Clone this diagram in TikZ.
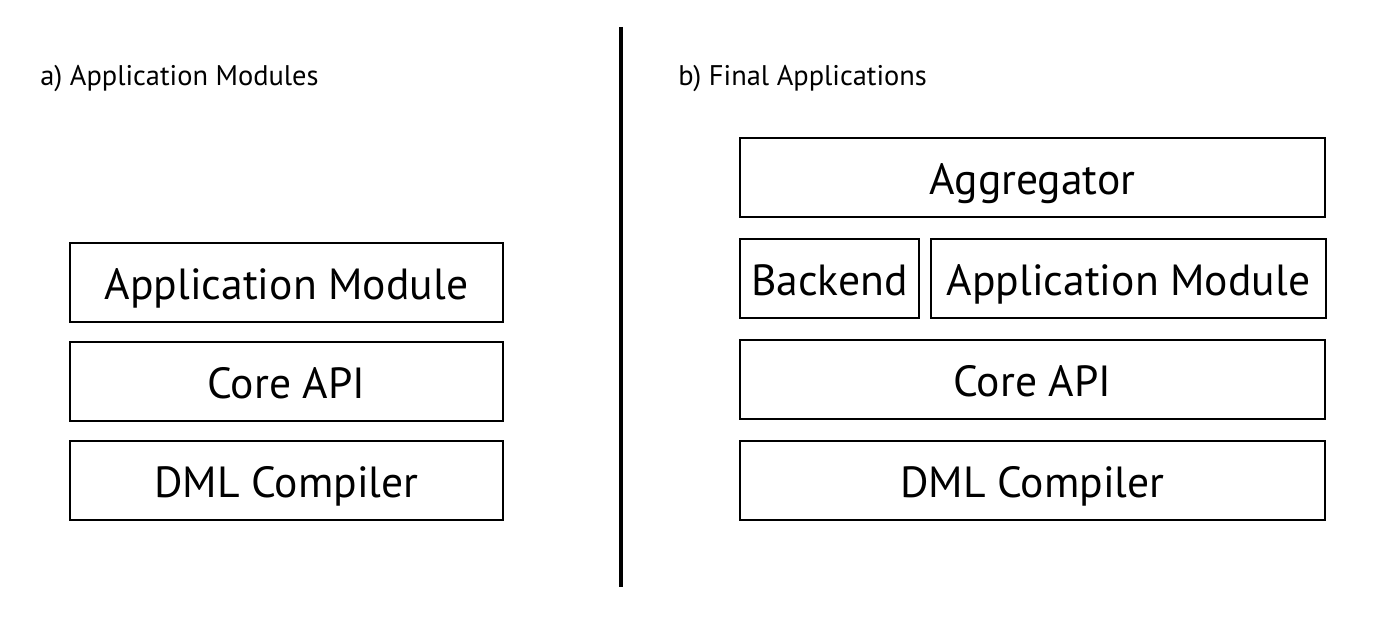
\documentclass[tikz,border=0pt]{standalone}
\usepackage{fontspec}
\setmainfont{PT Sans}
\tikzset{
  layer/.style = {draw, line width=1.5pt, inner sep=0pt, minimum height=1.975cm,
                  text height=23.5pt, text depth=0pt,
                  font=\fontsize{31}{37}\selectfont},
  caption/.style = {anchor=base west, inner sep=0pt, font=\fontsize{20.2}{24}\selectfont}
}
\begin{document}
\begin{tikzpicture}[x=0.025cm, y=-0.025cm]
        \useasboundingbox (0,0) rectangle (1396,617);

        % a) left stack
        \node[caption] (capa) at (40,86) {a) Application Modules};
        \node[layer, minimum width=10.825cm] (appa)  at (286.5,282.5) {Application Module};
        \node[layer, minimum width=10.825cm] (corea) at (286.5,381.5) {Core API};
        \node[layer, minimum width=10.825cm] (dmla)  at (286.5,480.5) {DML Compiler};

        % separator
        \draw[line width=2.2pt] (621,27) -- (621,587);

        % b) right stack
        \node[caption] (capb) at (678,86) {b) Final Applications};
        \node[layer, minimum width=14.625cm] (aggb)  at (1032.5,177.5) {Aggregator};
        \node[layer, minimum width=4.475cm]  (backb) at (829.5,278.5) {Backend};
        \node[layer, minimum width=9.875cm]  (appb)  at (1128.5,278.5) {Application Module};
        \node[layer, minimum width=14.625cm] (coreb) at (1032.5,379.5) {Core API};
        \node[layer, minimum width=14.625cm] (dmlb)  at (1032.5,480.5) {DML Compiler};
\end{tikzpicture}
\end{document}
